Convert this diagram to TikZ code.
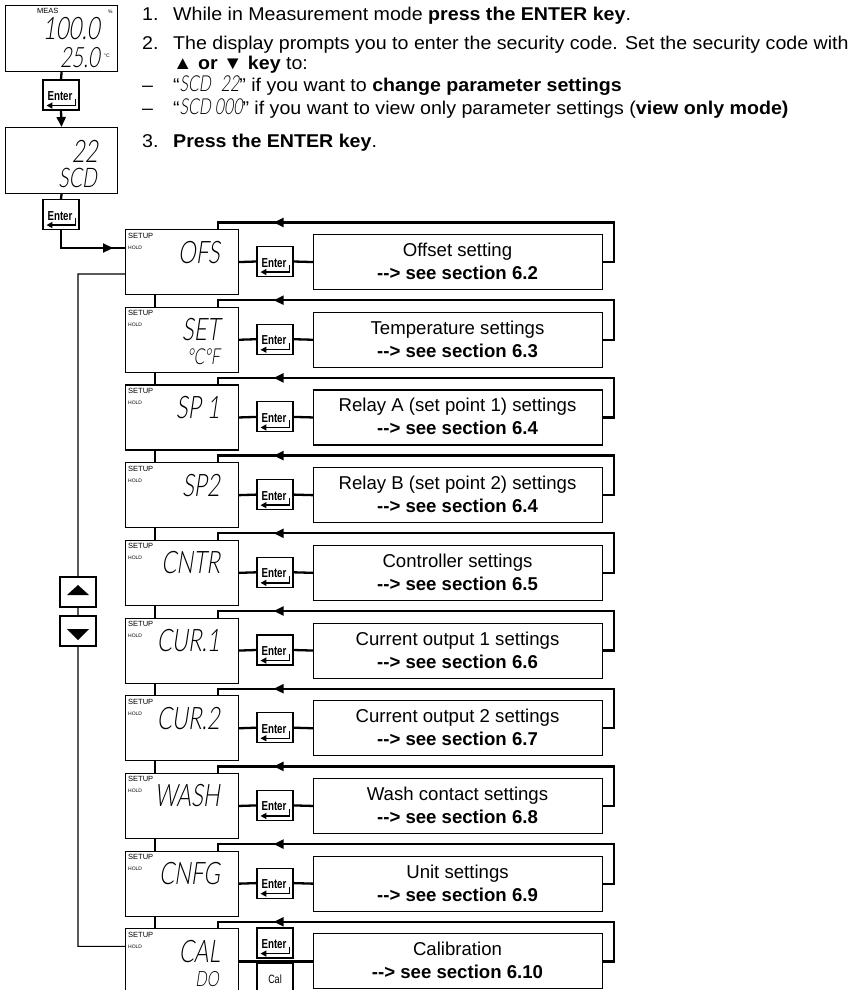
\documentclass[tikz,border=0pt]{standalone}
\usepackage{fontspec}
\setmainfont{Liberation Sans}
\newfontfamily\instfont{Liberation Sans}[FakeStretch=1.06]
\newfontfamily\btnfont{Liberation Sans}[FakeStretch=0.75]
\IfFontExistsTF{Lato Light}
 {\newfontfamily\segfont{Lato Light}[FakeSlant=0.15,FakeStretch=0.72]}
 {\newfontfamily\segfont{Lato}[FakeSlant=0.15,FakeStretch=0.72]}
\usetikzlibrary{arrows.meta,calc,decorations.markings}

\newcommand\enterkey[3]{%
  \node[btn] (#1) at (#2,#3) {};
  \node[btnlabel, anchor=base] (#1l) at ($(#1.south)+(-1,-10)$) {Enter};
  \draw[retarrow] ($(#1.south east)+(-4,-12)$) -- ++(0,7) -- ($(#1.south west)+(4,-5)$);
}
\newcommand\segin[1]{{\segfont\fontsize{22}{22}\selectfont #1}}

\tikzset{
  box/.style={draw, line width=1.1pt, inner sep=0pt, fill=white},
  disp/.style={box, minimum width=113pt, minimum height=65pt, anchor=north west},
  btn/.style={box, minimum width=36pt, minimum height=30pt},
  tbox/.style={box, minimum width=289pt, minimum height=55pt, anchor=north west},
  flow/.style={line width=2.3pt},
  conn/.style={line width=1.1pt},
  tipar/.style={-{Triangle[length=10pt,width=9pt]}},
  retarrow/.style={line width=1.4pt, -{Triangle[length=6pt,width=6pt]}},
  loopar/.style={flow, postaction={decorate},
    decoration={markings, mark=at position 391pt with {\arrow{Triangle[length=10pt,width=9pt]}}}},
  endar/.style={flow, postaction={decorate},
    decoration={markings, mark=at position -12pt with {\arrow{Triangle[length=10pt,width=9pt]}}}},
  btnlabel/.style={inner sep=0pt, font=\btnfont\bfseries\fontsize{13}{13}\selectfont},
  setupl/.style={inner sep=0pt, font=\fontsize{7.5}{8}\selectfont},
  holdl/.style={inner sep=0pt, font=\fontsize{5}{6}\selectfont},
  segl/.style={inner sep=0pt, font=\segfont\fontsize{31}{31}\selectfont},
  segs/.style={inner sep=0pt, font=\segfont\fontsize{22}{22}\selectfont},
  tl1/.style={inner sep=0pt, anchor=base, font=\fontsize{18.6}{20}\selectfont},
  tl2/.style={inner sep=0pt, anchor=base, font=\bfseries\fontsize{18.6}{20}\selectfont},
  inst/.style={inner sep=0pt, anchor=base west, font=\instfont\fontsize{18.5}{22}\selectfont},
}

\begin{document}
\begin{tikzpicture}[x=1pt,y=-1pt]
\useasboundingbox (0,0) rectangle (858,990);

% ---------- instructions ----------
\node[inst] (n1) at (142,21) {1.};
\node[inst] (l1) at (173,21) {While in Measurement mode \textbf{press the ENTER key}.};
\node[inst] (n2) at (142,49) {2.};
\node[inst] (l2) at (173,49) {The display prompts you to enter the security code. Set the security code with};
\node[inst] (l3) at (173,70) {\textbf{▲ or ▼ key} to:};
\node[inst] (n4) at (142,92) {–};
\node[inst] (l4) at (173,92) {“\segin{SCD\hspace{10pt}22}” if you want to \textbf{change parameter settings}};
\node[inst] (n5) at (142,114) {–};
\node[inst] (l5) at (173,114) {“\segin{SCD\hspace{4pt}000}” if you want to view only parameter settings (\textbf{view only mode)}};
\node[inst] (n6) at (142,147) {3.};
\node[inst] (l6) at (173,147) {\textbf{Press the ENTER key}.};

% ---------- top displays ----------
\node[disp, minimum width=112pt, minimum height=66pt] (m1) at (5,5) {};
\node[setupl, anchor=base west] (m1a) at (37,14) {MEAS};
\node[holdl, anchor=base west] (m1b) at (108,14) {\%};
\node[segl, anchor=base east, font=\segfont\fontsize{31}{31}\selectfont] (m1c) at (100,40) {100.0};
\node[segl, anchor=base east, font=\segfont\fontsize{28}{28}\selectfont] (m1d) at (100,67) {25.0};
\node[holdl, anchor=base west] (m1e) at (104,58) {°C};

\node[disp, minimum width=112pt, minimum height=66pt] (m2) at (5,127) {};
\node[segl, anchor=base east, font=\segfont\fontsize{31}{31}\selectfont] (m2a) at (98,162) {22};
\node[segl, anchor=base east, font=\segfont\fontsize{27}{27}\selectfont] (m2b) at (97,187) {SCD};

\enterkey{en1}{61}{95}
\enterkey{en2}{61}{214.5}

% ---------- chain ----------
\foreach \i/\code/\title/\sec in {
  0/OFS/Offset setting/6.2,
  1/SET/Temperature settings/6.3,
  2/SP\ 1/Relay A (set point 1) settings/6.4,
  3/SP2/Relay B (set point 2) settings/6.4,
  4/CNTR/Controller settings/6.5,
  5/CUR.1/Current output 1 settings/6.6,
  6/CUR.2/Current output 2 settings/6.7,
  7/WASH/Wash contact settings/6.8,
  8/CNFG/Unit settings/6.9,
  9/CAL/Calibration/6.10}{
  \pgfmathsetmacro\t{229+77.7*\i}
  \node[disp] (d\i) at (125,\t) {};
  \node[setupl, anchor=base west] (su\i) at ($(d\i.north west)+(3,9)$) {SETUP};
  \node[holdl, anchor=base west] (ho\i) at ($(d\i.north west)+(3,20)$) {HOLD};
  \node[segl, anchor=base east] (c\i) at ($(d\i.north west)+(95,34)$) {\code};
  \node[tbox] (t\i) at ($(d\i.north west)+(188,5)$) {};
  \node[tl1] (tt\i) at ($(t\i.north west)+(144.5,22.5)$) {\title};
  \node[tl2] (ts\i) at ($(t\i.north west)+(144.5,45.5)$) {{-}{-}> see section \sec};
  \draw[loopar] (t\i.east) -- ++(11,0) |- ($(d\i.north west)+(93,-6.5)$) -- ($(d\i.north west)+(93,0)$);
  \ifnum\i<9
    \enterkey{e\i}{275}{\t+32.5}
    \draw[flow] (d\i.east) -- (e\i.west);
    \draw[flow] (e\i.east) -- (t\i.west);
  \fi
}

\foreach \i [evaluate=\i as \j using int(\i+1)] in {0,...,8}{
  \draw[conn] ($(d\i.south west)+(30,0)$) -- ($(d\j.north west)+(30,0)$);
}

% second lines
\node[segs, anchor=base east] (c1b) at ($(d1.north west)+(95,58)$) {°C°F};
\node[segs, anchor=base east, font=\segfont\fontsize{21}{21}\selectfont] (c9b) at ($(d9.north west)+(94,58)$) {DO};

% calibration row keys
\draw[flow] (d9.east) -- (t9.west);
\enterkey{e9}{275}{943}
\node[btn] (cal) at (275,978) {};
\node[btnlabel, anchor=base, font=\btnfont\fontsize{12}{12}\selectfont] (call) at (275,983) {Cal};

% top flow
\draw[flow] (m1.south) -- (en1.north);
\draw[flow, tipar] (en1.south) -- (m2.north);
\draw[flow] (m2.south) -- (en2.north);
\draw[endar] (en2.south) |- ($(d0.north west)+(0,19)$);

% left return line with arrow keys
\coordinate (lb) at (78,946.3);
\draw[conn] ($(d0.north west)+(0,45)$) -| (lb) -- ($(d9.north west)+(0,18)$);
\node[btn] (up) at (78,592) {};
\node[btn] (dn) at (78,631) {};
\fill (up.center) ++(-11,3) -- ++(22,0) -- ++(-11,-10) -- cycle;
\fill (dn.center) ++(-11,-2) -- ++(22,0) -- ++(-11,11) -- cycle;
\end{tikzpicture}
\end{document}
